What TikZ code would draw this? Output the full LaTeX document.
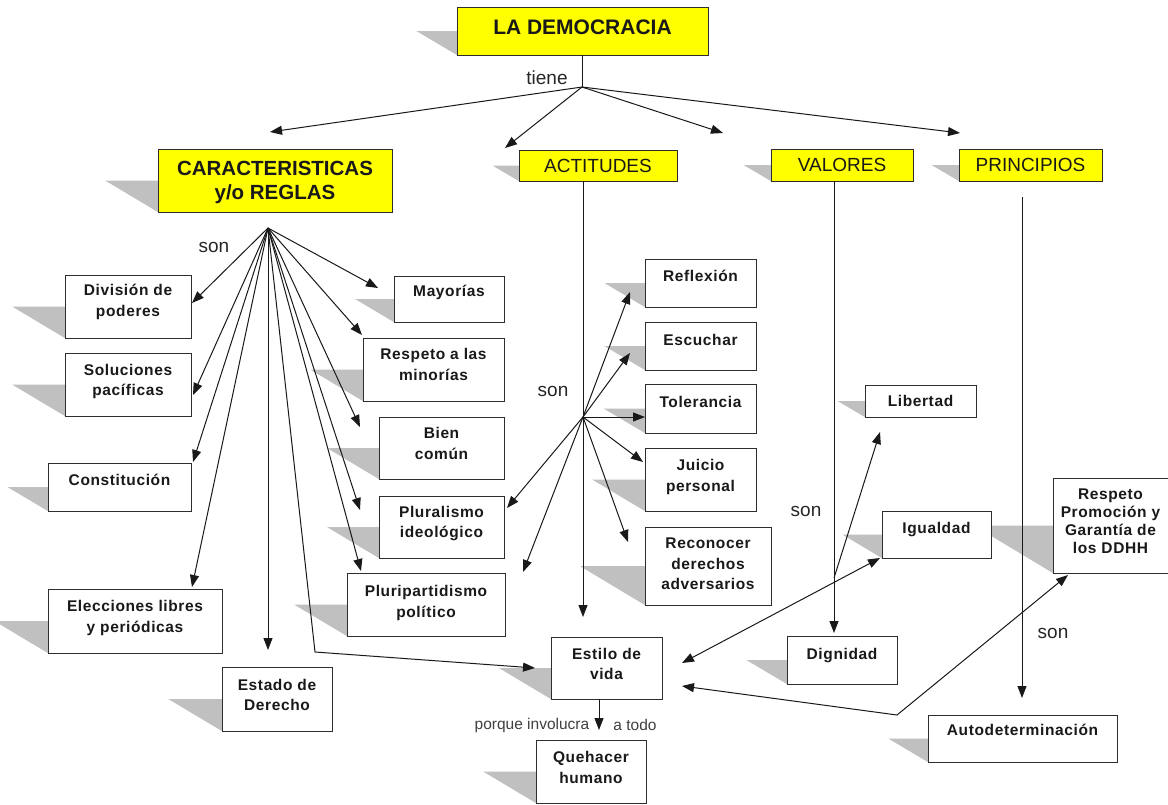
\documentclass[tikz,border=0pt]{standalone}
\usepackage{fontspec}
\setmainfont{Liberation Sans}
\newfontfamily\boxfont[LetterSpace=4.0]{Liberation Sans}
\usetikzlibrary{arrows.meta,backgrounds,calc}

\definecolor{shadowgrey}{RGB}{192,192,192}
\definecolor{titleyellow}{RGB}{255,255,0}
\definecolor{edgegrey}{RGB}{45,45,45}

\tikzset{
  box/.style={draw=edgegrey, line width=0.9pt, fill=white, align=center,
    inner sep=0pt, text=black!90,
    font=\boxfont\bfseries\fontsize{15.5}{20.5}\selectfont},
  titlebox/.style={box, fill=titleyellow,
    font=\bfseries\fontsize{21}{24}\selectfont},
  headbox/.style={box, fill=titleyellow,
    font=\fontsize{19}{22}\selectfont},
  lab/.style={font=\fontsize{19}{22}\selectfont, text=black!85, inner sep=0pt},
  smalllab/.style={font=\fontsize{15.5}{18}\selectfont, text=black!75, inner sep=0pt},
  ln/.style={draw=black!90, line width=1pt},
  tip/.tip={Triangle[length=12pt,width=9pt]},
  arr/.style={ln, -tip},
  dblarr/.style={ln, tip-tip},
  dp/.style={text depth=#1pt}
}

% box given by its corners: [style]{name}{x1}{y1}{x2}{y2}{text}
\newcommand\cmbox[7][]{%
  \node[box,#1,minimum width={#5-#3},minimum height={#6-#4}]
    (#2) at ({(#3+#5)/2},{(#4+#6)/2}) {#7};}

\begin{document}
\begin{tikzpicture}[x=1pt,y=-1pt]
\useasboundingbox (0,0) rectangle (1168,804);

% ---- main concepts
\cmbox[titlebox,dp=7]{demo}{457}{7}{708}{55}{LA DEMOCRACIA}
\cmbox[titlebox,dp=0,font=\bfseries\fontsize{20.5}{23.5}\selectfont]{car}{158}{149}{392}{212}{CARACTERISTICAS\\y/o REGLAS}
\cmbox[headbox,dp=0]{act}{519}{150}{677}{181}{ACTITUDES}
\cmbox[headbox,dp=0]{val}{771}{149}{913}{181}{VALORES}
\cmbox[headbox,dp=0]{prin}{959}{149}{1102}{181}{PRINCIPIOS}

% ---- characteristics / rules
\cmbox[dp=12.3]{div}{65}{275}{191}{338}{División de\\poderes}
\cmbox[dp=9]{sol}{65}{353}{191}{416}{Soluciones\\pacíficas}
\cmbox[dp=15]{const}{48}{463}{191}{511}{Constitución}
\cmbox[dp=9]{elec}{48}{589}{222}{653}{Elecciones libres\\y periódicas}
\cmbox[dp=8]{est}{222}{667}{332}{731}{Estado de\\Derecho}
\cmbox[dp=17]{may}{394}{276}{504}{322}{Mayorías}
\cmbox[dp=10]{resp}{363}{338}{504}{401}{Respeto a las\\minorías}
\cmbox[dp=9]{bien}{379}{417}{504}{479}{Bien\\común}
\cmbox[dp=10]{plural}{379}{496}{504}{558}{Pluralismo\\ideológico}
\cmbox[dp=6]{pluri}{347}{573}{505}{636}{Pluripartidismo\\político}

% ---- attitudes
\cmbox[dp=15]{refl}{645}{259}{756}{307}{Reflexión}
\cmbox[dp=12]{esc}{645}{322}{756}{370}{Escuchar}
\cmbox[dp=13]{tol}{645}{384}{756}{433}{Tolerancia}
\cmbox[dp=8]{juic}{645}{448}{756}{511}{Juicio\\personal}
\cmbox[dp=4]{rec}{645}{527}{771}{605}{Reconocer\\derechos\\adversarios}

% ---- values and principles
\cmbox[dp=1]{lib}{865}{385}{976}{417}{Libertad}
\cmbox[dp=13]{igu}{882}{511}{991}{558}{Igualdad}
\cmbox[dp=12]{dig}{787}{636}{897}{684}{Dignidad}
\cmbox[dp=8,font=\boxfont\bfseries\fontsize{15.5}{18}\selectfont]{ddhh}{1053}{478}{1168}{573}{Respeto\\Promoción y\\Garantía de\\los DDHH}
\cmbox[dp=17.3]{auto}{928}{715}{1117}{762}{Autodeterminación}

% ---- way of life
\cmbox[dp=8]{estilo}{551}{637}{662}{699}{Estilo de\\vida}
\cmbox[dp=8]{queh}{536}{740}{646}{803}{Quehacer\\humano}

% ---- page and drop shadows
\begin{scope}[on background layer]
  \fill[white] (0,0) rectangle (1168,804);
  \foreach \b in {demo,car,act,val,prin,div,sol,const,elec,est,may,resp,bien,
                  plural,pluri,refl,esc,tol,juic,rec,lib,igu,dig,ddhh,auto,estilo,queh}{
    \fill[shadowgrey] let \p1=(\b.north west), \p2=(\b.south west) in
      ({\x1-0.82*(\y1-\y2)},{0.5*\y1+0.5*\y2}) -- ({\x1+1pt},{0.5*\y1+0.5*\y2})
      -- ({\x2+1pt},\y2) -- cycle;
  }
\end{scope}

% ---- link labels
\node[lab] (tiene) at (547,78) {tiene};
\node[lab] (son1) at (214,247) {son};
\node[lab] (son2) at (553,391) {son};
\node[lab] (son3) at (806,511) {son};
\node[lab] (son4) at (1053,633) {son};
\node[smalllab] (porque) at (532,725) {porque involucra};
\node[smalllab] (atodo) at (635,725) {a todo};

% ---- junctions and free arrow ends
\coordinate (dj) at (582,87);
\coordinate (tCar) at (270,132);
\coordinate (tAct) at (505,148);
\coordinate (tMid) at (723,133);
\coordinate (tPrin) at (960,133);

\coordinate (cj) at (268,228);
\coordinate (tDiv) at (192,303);
\coordinate (tSol) at (193,395);
\coordinate (tConst) at (193,462);
\coordinate (tElec) at (192,587);
\coordinate (tEst) at (268,650);
\coordinate (cBend) at (315,652);
\coordinate (tEstilo) at (535,668);
\coordinate (tPluri) at (361,571);
\coordinate (tPlural) at (360,510);
\coordinate (tBien) at (360,427);
\coordinate (tResp) at (362,335);
\coordinate (tMay) at (378,288);

\coordinate (aj) at (583,417);
\coordinate (tAv) at (583,617);
\coordinate (tRefl) at (630,292);
\coordinate (tEsc) at (630,353);
\coordinate (tTol) at (645,417);
\coordinate (tJuic) at (643,462);
\coordinate (tRec) at (628,542);
\coordinate (tPlural2) at (507,508);
\coordinate (tPluri2) at (523,572);

\coordinate (vj) at (834,578);
\coordinate (tDig) at (834,633);
\coordinate (tLib) at (880,432);
\coordinate (eA) at (682,663);
\coordinate (eB) at (880,558);
\coordinate (eC) at (682,686);
\coordinate (eBend) at (897,715);
\coordinate (eD) at (1068,575);

\coordinate (pS) at (1022,197);
\coordinate (pE) at (1022,698);
\coordinate (eq) at (599,730);

% ---- connectors
\draw[ln] (demo.south -| dj) -- (dj);
\foreach \t in {tCar,tAct,tMid,tPrin} \draw[arr] (dj) -- (\t);

\foreach \t in {tDiv,tSol,tConst,tElec,tEst,tPluri,tPlural,tBien,tResp,tMay}
  \draw[arr] (cj) -- (\t);
\draw[arr] (cj) -- (cBend) -- (tEstilo);

\draw[arr] (act.south -| aj) -- (tAv);
\foreach \t in {tRefl,tEsc,tTol,tJuic,tRec,tPlural2,tPluri2}
  \draw[arr] (aj) -- (\t);

\draw[arr] (val.south -| vj) -- (tDig);
\draw[arr] (vj) -- (tLib);
\draw[dblarr] (eA) -- (eB);
\draw[dblarr] (eC) -- (eBend) -- (eD);

\draw[arr] (pS) -- (pE);
\draw[arr] (estilo.south -| eq) -- (eq);
\end{tikzpicture}
\end{document}
